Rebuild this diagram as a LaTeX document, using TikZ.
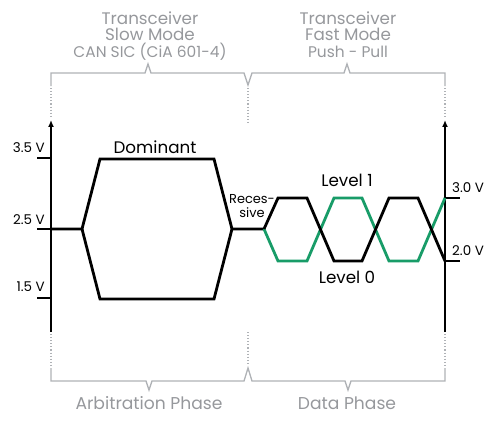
\documentclass[tikz,border=0pt]{standalone}
\usepackage{fontspec}
\setmainfont{Poppins}
\usetikzlibrary{arrows.meta}
\definecolor{sigGreen}{RGB}{24,156,104}
\definecolor{brk}{RGB}{175,178,182}
\definecolor{txtGray}{RGB}{150,152,156}
\tikzset{
  sig/.style={line width=2.8pt, line join=miter, black},
  sigG/.style={line width=2.8pt, line join=miter, sigGreen},
  axisline/.style={line width=1.8pt, -{Latex[length=7pt,width=6pt]}},
  tickline/.style={line width=1.8pt},
  bracket/.style={line width=1.3pt, brk, line join=miter},
  dotline/.style={line width=1.1pt, brk, dotted},
  graytxt/.style={text=txtGray, inner sep=0pt, anchor=base},
  blacktxt/.style={text=black, inner sep=0pt, anchor=base},
}
\begin{document}
\begin{tikzpicture}[x=1bp,y=-1bp]
\useasboundingbox (0,0) rectangle (500,422);
% axes
\coordinate (LA0) at (51,332); \coordinate (LA1) at (51,120);
\coordinate (RA0) at (445,332); \coordinate (RA1) at (445,120);
\draw[axisline] (LA0) -- (LA1);
\draw[axisline] (RA0) -- (RA1);
% ticks
\draw[tickline] (37,158) -- (51,158);
\draw[tickline] (37,229) -- (51,229);
\draw[tickline] (37,298) -- (51,298);
\draw[tickline] (445,198) -- (460,198);
\draw[tickline] (445,261) -- (460,261);
% value labels
\node[blacktxt, anchor=base east, font=\fontsize{13.5}{13.5}\selectfont] (v35) at (45,152) {3.5 V};
\node[blacktxt, anchor=base east, font=\fontsize{13.5}{13.5}\selectfont] (v25) at (45,224) {2.5 V};
\node[blacktxt, anchor=base east, font=\fontsize{13.5}{13.5}\selectfont] (v15) at (45,291) {1.5 V};
\node[blacktxt, anchor=base west, font=\fontsize{13.5}{13.5}\selectfont] (v30) at (452,192) {3.0 V};
\node[blacktxt, anchor=base west, font=\fontsize{13.5}{13.5}\selectfont] (v20) at (452,255) {2.0 V};
% waveform arbitration
\draw[sig] (51,229) -- (82,229) -- (100,159) -- (214,159) -- (232,229) -- (264,229);
\draw[sig] (82,229) -- (100,299) -- (214,299) -- (232,229);
% data phase
\draw[sigG] (264,229) -- (278,261) -- (307,261) -- (334,198) -- (362,198) -- (389,261) -- (418,261) -- (445,198);
\draw[sig] (264,229) -- (278,198) -- (307,198) -- (334,261) -- (362,261) -- (389,198) -- (418,198) -- (445,261);
% labels
\node[blacktxt, font=\fontsize{16.8}{16.8}\selectfont] (dom) at (155,153) {Dominant};
\node[blacktxt, font=\fontsize{13}{13}\selectfont] (rec1) at (252,203) {Reces-};
\node[blacktxt, font=\fontsize{13}{13}\selectfont] (rec2) at (252,217) {sive};
\node[blacktxt, font=\fontsize{16.8}{16.8}\selectfont] (lv1) at (347,186) {Level 1};
\node[blacktxt, font=\fontsize{16.8}{16.8}\selectfont] (lv0) at (347,283) {Level 0};
% top texts
\node[graytxt, font=\fontsize{16.8}{16.8}\selectfont] (t1) at (150,24) {Transceiver};
\node[graytxt, font=\fontsize{16.8}{16.8}\selectfont] (t2) at (150,40) {Slow Mode};
\node[graytxt, font=\fontsize{15.5}{15.5}\selectfont] (t3) at (150,57) {CAN SIC (CiA 601-4)};
\node[graytxt, font=\fontsize{16.8}{16.8}\selectfont] (t4) at (348,24) {Transceiver};
\node[graytxt, font=\fontsize{16.8}{16.8}\selectfont] (t5) at (348,40) {Fast Mode};
\node[graytxt, font=\fontsize{15.5}{15.5}\selectfont] (t6) at (348,57) {Push - Pull};
% top brackets
\draw[bracket] (51,86) -- (51,73) -- (145,73) -- (148,64) -- (151,73) -- (244,73) -- (248,85) -- (252,73) -- (344,73) -- (347,64) -- (350,73) -- (445,73) -- (445,86);
\draw[dotline] (51,88) -- (51,118);
\draw[dotline] (248,88) -- (248,122);
\draw[dotline] (445,88) -- (445,118);
% bottom brackets
\draw[dotline] (51,334) -- (51,366);
\draw[dotline] (248,332) -- (248,365);
\draw[dotline] (445,334) -- (445,366);
\draw[bracket] (51,368) -- (51,381) -- (146,381) -- (149,390) -- (152,381) -- (244,381) -- (248,368) -- (252,381) -- (345,381) -- (348,390) -- (351,381) -- (445,381) -- (445,368);
\node[graytxt, font=\fontsize{17.2}{17.2}\selectfont] (ph1) at (149,409) {Arbitration Phase};
\node[graytxt, font=\fontsize{17.2}{17.2}\selectfont] (ph2) at (347,409) {Data Phase};
\end{tikzpicture}
\end{document}
